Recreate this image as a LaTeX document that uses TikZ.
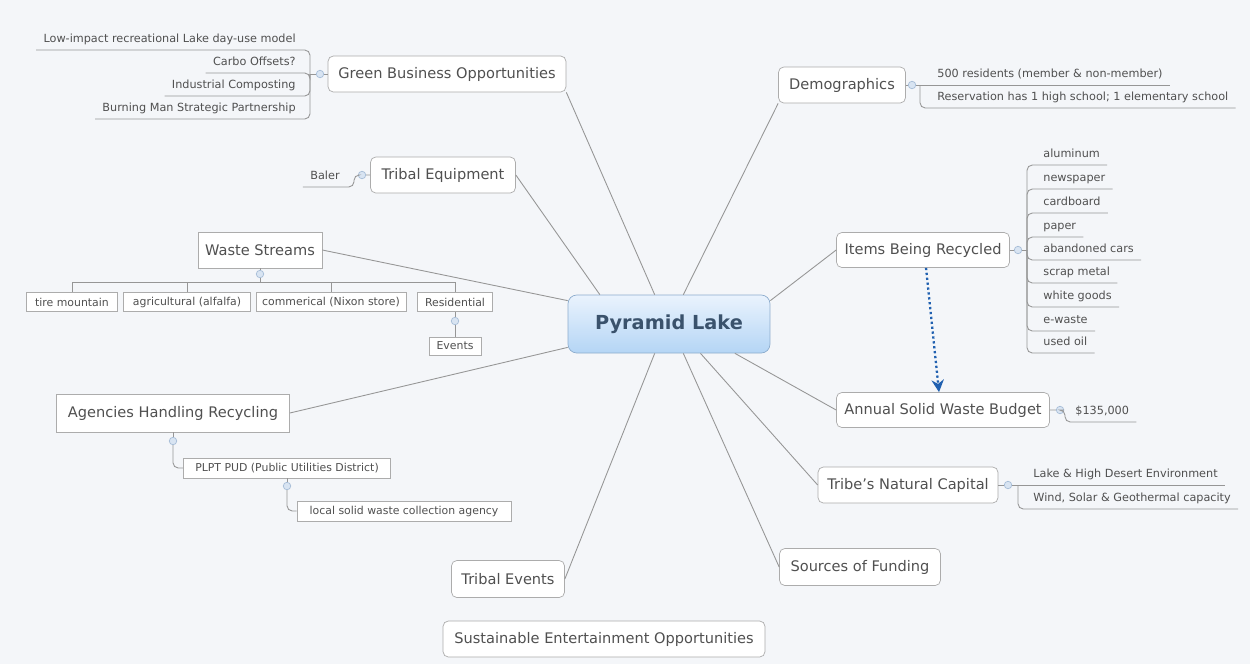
\documentclass[tikz,border=0pt]{standalone}
\usepackage{fontspec}
\setmainfont{DejaVu Sans}
\usetikzlibrary{arrows.meta}

\definecolor{bgcol}{RGB}{244,246,249}
\definecolor{linecol}{RGB}{150,150,150}
\definecolor{boxcol}{RGB}{172,172,172}
\definecolor{txtcol}{RGB}{80,80,80}
\definecolor{knobfill}{RGB}{216,228,242}
\definecolor{knobline}{RGB}{165,188,215}
\definecolor{centertop}{RGB}{234,243,253}
\definecolor{centerbot}{RGB}{180,213,245}
\definecolor{centerline}{RGB}{140,172,205}
\definecolor{centertxt}{RGB}{58,82,108}
\definecolor{arrowcol}{RGB}{32,96,176}

\tikzset{
  topic/.style={draw=boxcol, fill=white, rounded corners=3pt, text=txtcol,
    font=\fontsize{8.3}{10}\selectfont, inner sep=0pt},
  flatbox/.style={topic, rounded corners=0pt},
  smallbox/.style={draw=boxcol, fill=white, text=txtcol,
    font=\fontsize{6.2}{7.4}\selectfont, inner sep=0pt},
  leaf/.style={text=txtcol, font=\fontsize{6.4}{7.6}\selectfont,
    inner xsep=4pt, inner ysep=1.5pt, text height=1.7ex, text depth=0.5ex},
  knob/.style={circle, draw=knobline, fill=knobfill, inner sep=0pt, minimum size=0.15cm},
  spoke/.style={draw=linecol, line width=0.5pt},
  branch/.style={draw=linecol, line width=0.5pt, rounded corners=3pt},
  relarrow/.style={draw=arrowcol, line width=1.3pt, dash pattern=on 1.3pt off 1.5pt,
    -{Stealth[length=7pt, width=7pt]}}
}

\begin{document}
\begin{tikzpicture}[x=0.02cm, y=-0.02cm]

\fill[bgcol] (0,0) rectangle (1250,664);

\node[topic, minimum width=4.04cm, minimum height=1.16cm, rounded corners=5pt,
  draw=centerline, top color=centertop, bottom color=centerbot, text=centertxt,
  font=\fontsize{11}{13}\selectfont\bfseries] (pl) at (669,324) {Pyramid Lake};

\node[topic, minimum width=4.76cm, minimum height=0.72cm] (gbo) at (447,74) {Green Business Opportunities};
\node[topic, minimum width=2.9cm, minimum height=0.72cm] (teq) at (443,175) {Tribal Equipment};
\node[flatbox, minimum width=2.48cm, minimum height=0.72cm] (ws) at (260,250) {Waste Streams};
\node[flatbox, minimum width=4.66cm, minimum height=0.76cm] (ahr) at (173,413) {Agencies Handling Recycling};
\node[topic, minimum width=2.26cm, minimum height=0.74cm] (tev) at (508,579) {Tribal Events};
\node[topic, minimum width=6.44cm, minimum height=0.72cm] (seo) at (604,639) {Sustainable Entertainment Opportunities};
\node[topic, minimum width=3.22cm, minimum height=0.74cm] (sof) at (860,567) {Sources of Funding};
\node[topic, minimum width=3.6cm, minimum height=0.72cm] (tnc) at (908,485) {Tribe's Natural Capital};
\node[topic, minimum width=4.26cm, minimum height=0.7cm] (aswb) at (943,410) {Annual Solid Waste Budget};
\node[topic, minimum width=3.46cm, minimum height=0.7cm] (ibr) at (923,250) {Items Being Recycled};
\node[topic, minimum width=2.54cm, minimum height=0.72cm] (dem) at (842,85) {Demographics};

\draw[spoke] (gbo.south east) -- (pl.116);
\draw[spoke] (teq.east) -- (pl.157);
\draw[spoke] (ws.east) -- (pl.167);
\draw[spoke] (ahr.east) -- (pl.193);
\draw[spoke] (tev.east) -- (pl.244);
\draw[spoke] (sof.west) -- (pl.296);
\draw[spoke] (tnc.west) -- (pl.317);
\draw[spoke] (aswb.west) -- (pl.336);
\draw[spoke] (ibr.west) -- (pl.13);
\draw[spoke] (dem.south west) -- (pl.64);

\node[leaf, anchor=south east] (lim) at (303,50) {Low-impact recreational Lake day-use model};
\node[leaf, anchor=south east] (cof) at (303,73) {Carbo Offsets?};
\node[leaf, anchor=south east] (ico) at (303,96) {Industrial Composting};
\node[leaf, anchor=south east] (bms) at (303,119) {Burning Man Strategic Partnership};
\node[knob] (gbk) at (320,74) {};
\coordinate (gbbr) at (310,74);
\draw[branch] (gbo.west) -- (gbk) -- (gbbr);
\draw[branch] (gbbr) |- (lim.south west);
\draw[branch] (gbbr) |- (cof.south west);
\draw[branch] (gbbr) |- (ico.south west);
\draw[branch] (gbbr) |- (bms.south west);

\node[leaf, anchor=south east] (bal) at (347,187) {Baler};
\node[knob] (tek) at (362,175) {};
\coordinate (tebr) at (354,175);
\draw[branch] (teq.west) -- (tek) -- (tebr) |- (bal.south west);

\node[smallbox, minimum width=1.82cm, minimum height=0.38cm] (tm) at (72,302) {tire mountain};
\node[smallbox, minimum width=2.54cm, minimum height=0.38cm] (agr) at (187,302) {agricultural (alfalfa)};
\node[smallbox, minimum width=3.0cm, minimum height=0.38cm] (com) at (331,302) {commerical (Nixon store)};
\node[smallbox, minimum width=1.5cm, minimum height=0.38cm] (res) at (455,302) {Residential};
\node[smallbox, minimum width=1.04cm, minimum height=0.36cm] (evt) at (455,346) {Events};
\node[knob] (wsk) at (260,274) {};
\node[knob] (resk) at (455,321) {};
\coordinate (wsbar) at (260,282);
\draw[spoke] (ws.south) -- (wsk) -- (wsbar);
\draw[spoke] (wsbar) -| (tm.north);
\draw[spoke] (wsbar) -| (agr.north);
\draw[spoke] (wsbar) -| (com.north);
\draw[spoke] (wsbar) -| (res.north);
\draw[spoke] (res.south) -- (resk) -- (evt.north);

\node[smallbox, minimum width=4.14cm, minimum height=0.4cm] (plpt) at (287,468) {PLPT PUD (Public Utilities District)};
\node[smallbox, minimum width=4.28cm, minimum height=0.4cm] (lsw) at (404,511) {local solid waste collection agency};
\node[knob] (ahrk) at (173,441) {};
\node[knob] (plk) at (287,486) {};
\draw[spoke] (ahr.south) -- (ahrk);
\draw[branch] (ahrk) |- (plpt.west);
\draw[spoke] (plpt.south) -- (plk);
\draw[branch] (plk) |- (lsw.west);

\node[leaf, anchor=south west] (d1) at (930,85) {500 residents (member \& non-member)};
\node[leaf, anchor=south west] (d2) at (930,108) {Reservation has 1 high school; 1 elementary school};
\node[knob] (demk) at (912,85) {};
\coordinate (dembr) at (920,85);
\draw[branch] (dem.east) -- (demk) -- (d1.south east);
\draw[branch] (dembr) |- (d2.south east);

\node[leaf, anchor=south west] (i1) at (1036,165) {aluminum};
\node[leaf, anchor=south west] (i2) at (1036,189) {newspaper};
\node[leaf, anchor=south west] (i3) at (1036,213) {cardboard};
\node[leaf, anchor=south west] (i4) at (1036,237) {paper};
\node[leaf, anchor=south west] (i5) at (1036,260) {abandoned cars};
\node[leaf, anchor=south west] (i6) at (1036,283) {scrap metal};
\node[leaf, anchor=south west] (i7) at (1036,307) {white goods};
\node[leaf, anchor=south west] (i8) at (1036,331) {e-waste};
\node[leaf, anchor=south west] (i9) at (1036,353) {used oil};
\node[knob] (ibrk) at (1018,250) {};
\coordinate (ibrbr) at (1027,250);
\draw[branch] (ibr.east) -- (ibrk) -- (ibrbr);
\foreach \i in {i1,i2,i3,i4,i5,i6,i7,i8,i9}
  \draw[branch] (ibrbr) |- (\i.south east);

\node[leaf, anchor=south west] (bud) at (1068,422) {\$135,000};
\node[knob] (aswk) at (1060,410) {};
\coordinate (aswbr) at (1065,410);
\draw[branch] (aswb.east) -- (aswk) -- (aswbr) |- (bud.south east);

\node[leaf, anchor=south west] (n1) at (1026,485) {Lake \& High Desert Environment};
\node[leaf, anchor=south west] (n2) at (1026,509) {Wind, Solar \& Geothermal capacity};
\node[knob] (tnck) at (1008,485) {};
\coordinate (tncbr) at (1018,485);
\draw[branch] (tnc.east) -- (tnck) -- (n1.south east);
\draw[branch] (tncbr) |- (n2.south east);

\draw[relarrow] ([xshift=0.06cm]ibr.south) -- ([xshift=-0.08cm]aswb.north);

\end{tikzpicture}
\end{document}
